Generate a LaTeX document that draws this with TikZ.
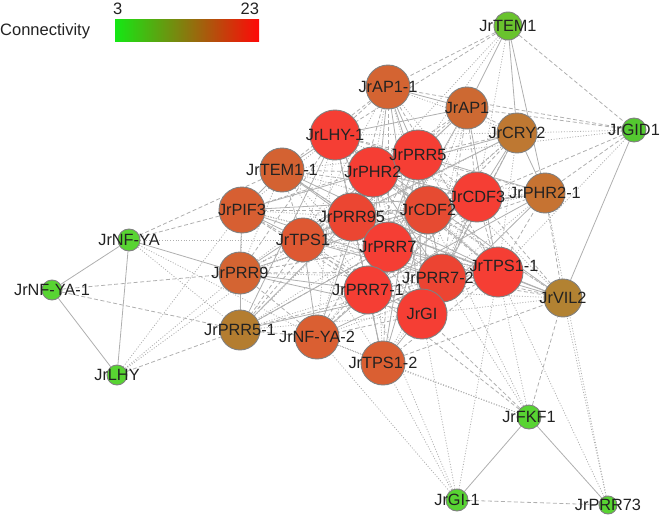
\documentclass[tikz,border=0pt]{standalone}
\usepackage{fontspec}
\setmainfont{Liberation Sans}
\usepackage{tikz}
\usetikzlibrary{
    positioning,
    backgrounds
}
\definecolor{hubRed}{RGB}{245,62,52}
\definecolor{geneGreen}{RGB}{88,212,50}
\definecolor{edgeGray}{RGB}{175,175,175}
\definecolor{rimGray}{RGB}{128,128,128}
\definecolor{textGray}{RGB}{34,34,34}
\tikzset{
  gene/.style     = {circle, draw=rimGray, line width=0.9pt, inner sep=0pt},
  lbl/.style      = {text=textGray, inner sep=0pt,
                     font=\fontsize{16.3}{17}\selectfont},
  leg/.style      = {text=textGray, inner sep=0pt,
                     font=\fontsize{16.5}{17}\selectfont},
  link0/.style    = {edgeGray, line width=0.8pt},
  link1/.style    = {edgeGray, line width=0.8pt, dash pattern=on 4pt off 2.5pt},
  link2/.style    = {edgeGray, line width=0.8pt, dash pattern=on 1pt off 1.7pt}
}

\begin{document}
\begin{tikzpicture}[x=1pt, y=-1pt]
    \useasboundingbox (0,0) rectangle (663,516);

    % legend
    \node[leg, anchor=west] (conn) at (0,31) {Connectivity};
    \node[minimum width=144pt, minimum height=22pt, inner sep=0pt,
          left color={rgb,255:red,20;green,232;blue,20},
          middle color={rgb,255:red,130;green,125;blue,10},
          right color={rgb,255:red,255;green,8;blue,8}] (cbar) at (187,31) {};
    \node[leg, anchor=south] (lo) at ([xshift=3pt, yshift=5pt]cbar.north west) {3};
    \node[leg, anchor=south east] (hi) at ([yshift=5pt]cbar.north east) {23};

    % genes
    \node[gene, fill={rgb,255:red,105;green,195;blue,45}, minimum size=28pt] (tem1) at (508,26) {};
    \node[gene, fill=geneGreen!95!black, minimum size=24pt] (gid1) at (634,130) {};
    \node[gene, fill={rgb,255:red,212;green,100;blue,50}, minimum size=44pt] (ap11) at (388,87) {};
    \node[gene, fill={rgb,255:red,205;green,105;blue,50}, minimum size=42pt] (ap1) at (467,108) {};
    \node[gene, fill={rgb,255:red,190;green,120;blue,50}, minimum size=40pt] (cry2) at (517,133) {};
    \node[gene, fill={rgb,255:red,198;green,115;blue,50}, minimum size=40pt] (phr21) at (545,193) {};
    \node[gene, fill=hubRed, minimum size=50pt] (lhy1) at (335,135) {};
    \node[gene, fill={rgb,255:red,212;green,98;blue,50}, minimum size=44pt] (tem11) at (282,170) {};
    \node[gene, fill=hubRed, minimum size=50pt] (phr2) at (373,172) {};
    \node[gene, fill=hubRed, minimum size=50pt] (prr5) at (418,155) {};
    \node[gene, fill={rgb,255:red,215;green,95;blue,50}, minimum size=46pt] (pif3) at (242,210) {};
    \node[gene, fill={rgb,255:red,235;green,70;blue,50}, minimum size=48pt] (prr95) at (352,217) {};
    \node[gene, fill={rgb,255:red,230;green,75;blue,50}, minimum size=48pt] (cdf2) at (428,210) {};
    \node[gene, fill=hubRed, minimum size=50pt] (cdf3) at (477,197) {};
    \node[gene, fill={rgb,255:red,222;green,88;blue,50}, minimum size=44pt] (tps1) at (303,240) {};
    \node[gene, fill=hubRed, minimum size=50pt] (prr7) at (388,247) {};
    \node[gene, fill={rgb,255:red,212;green,100;blue,50}, minimum size=42pt] (prr9) at (240,273) {};
    \node[gene, fill={rgb,255:red,236;green,68;blue,50}, minimum size=48pt] (prr72) at (442,278) {};
    \node[gene, fill=hubRed, minimum size=50pt] (tps11) at (498,272) {};
    \node[gene, fill=hubRed, minimum size=48pt] (prr71) at (368,290) {};
    \node[gene, fill=hubRed, minimum size=50pt] (gi) at (422,314) {};
    \node[gene, fill={rgb,255:red,180;green,125;blue,48}, minimum size=40pt] (prr51) at (240,330) {};
    \node[gene, fill={rgb,255:red,218;green,95;blue,50}, minimum size=44pt] (nfya2) at (317,337) {};
    \node[gene, fill={rgb,255:red,218;green,95;blue,50}, minimum size=44pt] (tps12) at (383,363) {};
    \node[gene, fill={rgb,255:red,178;green,130;blue,50}, minimum size=38pt] (vil2) at (563,298) {};
    \node[gene, fill=geneGreen, minimum size=22pt] (nfya) at (129,240) {};
    \node[gene, fill=geneGreen, minimum size=20pt] (nfya1) at (52,290) {};
    \node[gene, fill=geneGreen, minimum size=20pt] (lhy) at (117,375) {};
    \node[gene, fill=geneGreen, minimum size=24pt] (fkf1) at (529,417) {};
    \node[gene, fill=geneGreen, minimum size=22pt] (gi1) at (457,500) {};
    \node[gene, fill=geneGreen, minimum size=18pt] (prr73) at (608,505) {};

    % names on top
    \foreach \n/\t in {tem1/JrTEM1, gid1/JrGID1, ap11/JrAP1-1, ap1/JrAP1,
        cry2/JrCRY2, phr21/JrPHR2-1, lhy1/JrLHY-1, tem11/JrTEM1-1,
        phr2/JrPHR2, prr5/JrPRR5, pif3/JrPIF3, prr95/JrPRR95, cdf2/JrCDF2,
        cdf3/JrCDF3, tps1/JrTPS1, prr7/JrPRR7, prr9/JrPRR9,
        prr71/JrPRR7-1, gi/JrGI, prr51/JrPRR5-1,
        nfya2/JrNF-YA-2, tps12/JrTPS1-2, vil2/JrVIL2, nfya/JrNF-YA,
        nfya1/JrNF-YA-1, lhy/JrLHY, fkf1/JrFKF1, gi1/JrGI-1, prr73/JrPRR73}
      \node[lbl] (\n-t) at (\n) {\t};
    \node[lbl] (prr72-t) at ([xshift=-4pt]prr72) {JrPRR7-2};
    \node[lbl] (tps11-t) at ([xshift=6pt, yshift=6pt]tps11) {JrTPS1-1};

    \begin{scope}[on background layer]
    % hubs to the rest of the core
    \foreach \a [count=\i] in {lhy1,prr5,phr2,prr95,cdf2,cdf3,prr7,prr71,prr72,tps11,gi,tps1}{
      \foreach \b [count=\j] in {lhy1,prr5,phr2,prr95,cdf2,cdf3,prr7,prr71,prr72,tps11,gi,tps1}{
        \ifnum\j>\i
          \pgfmathtruncatemacro\k{mod(\i*5+\j*7,3)}
          \draw[link\k] (\a) -- (\b);
        \fi
      }
      \foreach \b [count=\j] in {ap11,ap1,cry2,phr21,tem11,pif3,prr9,prr51,nfya2,tps12,vil2}{
        \pgfmathtruncatemacro\k{mod(\i*2+\j*5,3)}
        \draw[link\k] (\a) -- (\b);
      }
    }
    % outer links
    \foreach \a/\b in {nfya/nfya1, nfya/lhy, nfya1/lhy, nfya/prr9, pif3/prr9,
        prr9/prr51, fkf1/gi1, fkf1/prr73, tem1/ap1, tem1/cry2, tem1/phr21,
        gid1/vil2, ap11/ap1, tem11/pif3, cry2/phr21}
      \draw[link0] (\a) -- (\b);
    \foreach \a/\b in {nfya1/prr9, nfya1/prr51, nfya/pif3, nfya/tem11,
        lhy/prr51, gi1/prr73, tem1/gid1, tem1/ap11, tem1/lhy1, gid1/ap1,
        gid1/cdf3, gid1/phr21, gid1/ap11, fkf1/vil2, fkf1/gi, fkf1/prr71,
        ap11/tem11, phr21/vil2, prr51/nfya2, tps12/vil2, ap1/cry2, prr9/nfya2}
      \draw[link1] (\a) -- (\b);
    \foreach \a/\b in {nfya/prr51, nfya/nfya2, nfya/tps1, lhy/prr9, lhy/tps1,
        lhy/pif3, gid1/cry2, gid1/prr5, gid1/tps11, tem1/prr5, tem1/cdf3,
        tem1/phr2, fkf1/tps11, fkf1/prr72, fkf1/tps12, fkf1/nfya2, fkf1/cdf2,
        gi1/tps12, gi1/nfya2, gi1/prr71, gi1/tps11, gi1/gi, prr73/vil2,
        prr73/phr21, prr73/tps11, nfya2/tps12, pif3/prr51, tem11/prr9, ap11/cry2}
      \draw[link2] (\a) -- (\b);
    \end{scope}
\end{tikzpicture}
\end{document}
